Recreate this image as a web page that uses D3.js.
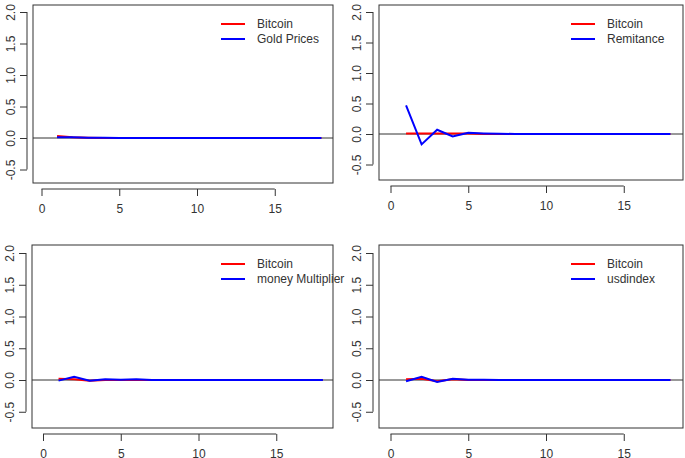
<!DOCTYPE html><html><head><meta charset="utf-8"><script src="https://cdn.jsdelivr.net/npm/d3@7"></script>
<style>body{margin:0;background:#fff}text{font-family:"Liberation Sans",Arial,sans-serif;fill:#333}</style></head><body>
<svg id="c" width="685" height="458"></svg>
<script>
const xTicks=[0,5,10,15];
const yTicks=[-0.5,0,0.5,1,1.5,2];
const lags=d3.range(1,19);
const legendLabels=["Gold Prices","Remitance","money Multiplier","usdindex"];
const btcGold=[0.03,0.01,0.005,0,0,0,0,0,0,0,0,0,0,0,0,0,0,0];
const gold=[0.01,0.01,0.005,0.003,0,0,0,0,0,0,0,0,0,0,0,0,0,0];
const btcRem=[0.01,0.01,0.01,0.01,0.01,0,0,0,0,0,0,0,0,0,0,0,0,0];
const rem=[0.47,-0.17,0.07,-0.04,0.02,0.01,0.005,0,0,0,0,0,0,0,0,0,0,0];
const btcMM=[0.02,0.01,-0.01,0,0,0,0,0,0,0,0,0,0,0,0,0,0,0];
const mm=[-0.01,0.05,-0.01,0.01,0.005,0.01,0,0,0,0,0,0,0,0,0,0,0,0];
const btcUsd=[0.01,0.02,-0.02,0.01,0,0,0,0,0,0,0,0,0,0,0,0,0,0];
const usd=[-0.02,0.05,-0.03,0.02,0.005,0.005,0,0,0,0,0,0,0,0,0,0,0,0];
const panels=[
 {b:btcGold,o:gold,l:legendLabels[0],x0:33,x1:333,y0:5,y1:183,xz:41.5,yz:138,py:63},
 {b:btcRem,o:rem,l:legendLabels[1],x0:379,x1:683,y0:5,y1:180,xz:390.5,yz:134,py:61},
 {b:btcMM,o:mm,l:legendLabels[2],x0:32,x1:333,y0:245,y1:428,xz:43,yz:380,py:63.5},
 {b:btcUsd,o:usd,l:legendLabels[3],x0:379,x1:683,y0:245,y1:428,xz:390.5,yz:380,py:63.5}];
const svg=d3.select("#c");
const fmtY=d=>(d<0?"-":"")+Math.abs(d).toFixed(1);
panels.forEach(p=>{
 const pxu=15.55;
 const x=d3.scaleLinear().domain([(p.x0-p.xz)/pxu,(p.x1-p.xz)/pxu]).range([p.x0,p.x1]);
 const y=d3.scaleLinear().domain([(p.yz-p.y1)/p.py,(p.yz-p.y0)/p.py]).range([p.y1,p.y0]);
 const g=svg.append("g");
 g.append("rect").attr("x",p.x0).attr("y",p.y0).attr("width",p.x1-p.x0).attr("height",p.y1-p.y0).attr("fill","none").attr("stroke","#333");
 const xa=g.append("g").attr("transform",`translate(0,${p.y1+6})`).call(d3.axisBottom(x).tickValues(xTicks).tickSize(7).tickPadding(8).tickFormat(d3.format("d")));
 const ya=g.append("g").attr("transform",`translate(${p.x0-6},0)`).call(d3.axisLeft(y).tickValues(yTicks).tickSize(7).tickFormat(fmtY));
 [xa,ya].forEach(a=>{a.select(".domain").attr("stroke","#333");a.selectAll("line").attr("stroke","#333");a.selectAll("text").attr("font-size",12).attr("fill","#333");});
 ya.select(".domain").attr("d",`M0,${y(-0.5)}V${y(2)}`);
 xa.select(".domain").attr("d",`M${x(0)},0H${x(15)}`);
 ya.selectAll(".tick text").attr("text-anchor","middle").attr("x",0).attr("y",0).attr("dy","0.35em").attr("transform","translate(-16,0) rotate(-90)");
 g.append("line").attr("x1",p.x0).attr("x2",p.x1).attr("y1",y(0)).attr("y2",y(0)).attr("stroke","#333");
 const ln=d3.line().x((d,i)=>x(lags[i])).y(d=>y(d));
 g.append("path").attr("d",ln(p.b)).attr("fill","none").attr("stroke","#ff0000").attr("stroke-width",2);
 g.append("path").attr("d",ln(p.o)).attr("fill","none").attr("stroke","#0000ff").attr("stroke-width",2);
 const lx=p.x1-112, ly=p.y0+19;
 [["Bitcoin","#ff0000"],[p.l,"#0000ff"]].forEach((e,i)=>{
  g.append("line").attr("x1",lx).attr("x2",lx+24).attr("y1",ly+i*15).attr("y2",ly+i*15).attr("stroke",e[1]).attr("stroke-width",2);
  g.append("text").attr("x",lx+36).attr("y",ly+i*15).attr("dy","0.35em").attr("font-size",12).text(e[0]);
 });
});
</script></body></html>
